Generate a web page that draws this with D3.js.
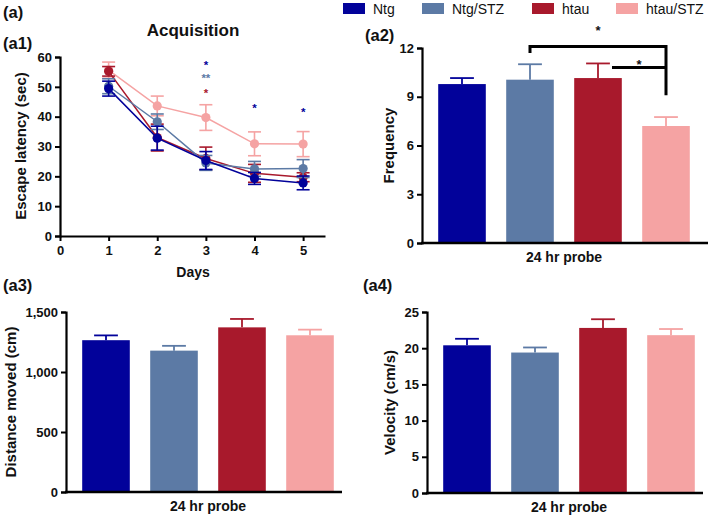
<!DOCTYPE html>
<html><head><meta charset="utf-8">
<script src="https://cdn.jsdelivr.net/npm/d3@7"></script>
<style>body{margin:0;background:#fff}svg{display:block;font-family:"Liberation Sans",Arial,sans-serif;font-weight:bold}</style>
</head><body>
<script>
// ---- data ----
const groups = ["Ntg", "Ntg/STZ", "htau", "htau/STZ"];
const colors = ["#02029a", "#5c7aa5", "#a8192c", "#f5a3a3"];
const days = [1, 2, 3, 4, 5];
const latencyNtg = [49.4, 32.8, 25.3, 19.3, 17.8];
const latencyNtgErr = [2.5, 4.0, 3.0, 2.0, 2.3];
const latencyNtgSTZ = [50.2, 38.3, 24.5, 22.5, 22.6];
const latencyNtgSTZErr = [2.5, 2.6, 2.5, 2.5, 3.0];
const latencyHtau = [55.2, 33.0, 26.0, 21.0, 19.7];
const latencyHtauErr = [1.6, 4.5, 3.8, 3.0, 1.5];
const latencyHtauSTZ = [55.6, 43.6, 39.7, 30.9, 30.8];
const latencyHtauSTZErr = [2.7, 3.3, 4.3, 4.0, 4.2];
const frequency = [9.78, 10.05, 10.15, 7.2];
const frequencyErr = [0.37, 0.95, 0.9, 0.55];
const distance = [1265, 1178, 1372, 1306];
const distanceErr = [40, 40, 70, 47];
const velocity = [20.4, 19.4, 22.8, 21.8];
const velocityErr = [0.9, 0.7, 1.2, 0.85];
const latencyTicks = [0, 10, 20, 30, 40, 50, 60];
const dayTicks = [0, 1, 2, 3, 4, 5];
const frequencyTicks = [0, 3, 6, 9, 12];
const distanceTicks = [0, 500, 1000, 1500];
const velocityTicks = [0, 5, 10, 15, 20, 25];
// significance stars in a1: [day, value, group index, text]
const latencyStars = [[3, 57.2, 0, "*"], [3, 52.8, 1, "**"], [3, 48.1, 2, "*"], [4, 43, 0, "*"], [5, 41.6, 0, "*"]];

const W = 709, H = 516;
const svg = d3.select("body").append("svg").attr("width", W).attr("height", H);
const fmt = d3.format(",");

function text(x, y, s, size, anchor, rot) {
  const t = svg.append("text").attr("x", x).attr("y", y).attr("font-size", size)
    .attr("text-anchor", anchor || "start").attr("dominant-baseline", "central").attr("fill", "#111").text(s);
  if (rot) t.attr("transform", `rotate(${rot},${x},${y})`);
  return t;
}

function styleAxis(g) {
  g.select(".domain").attr("stroke", "#000").attr("stroke-width", 2.2);
  g.selectAll(".tick line").attr("stroke", "#000").attr("stroke-width", 2);
  g.selectAll(".tick text").attr("font-size", 13).attr("font-weight", "bold").attr("fill", "#111")
    .attr("font-family", '"Liberation Sans",Arial,sans-serif');
}

// ---- legend ----
const legX = [343, 422, 532, 616];
groups.forEach((g, i) => {
  svg.append("rect").attr("x", legX[i]).attr("y", 3).attr("width", 22).attr("height", 11).attr("fill", colors[i]);
  text(legX[i] + 30, 9, g, 14).attr("font-weight", "normal");
});

text(3, 12, "(a)", 16.5);

// ---- a1 ----
{
  const x = d3.scaleLinear().domain([0, 5.45]).range([60, 325]);
  const y = d3.scaleLinear().domain([0, 60]).range([236, 57]);
  text(3, 43, "(a1)", 16.5);
  text(193, 30, "Acquisition", 17, "middle");
  svg.append("g").attr("transform", "translate(60,0)")
    .call(d3.axisLeft(y).tickValues(latencyTicks).tickSize(5).tickPadding(3)).call(styleAxis);
  svg.append("g").attr("transform", "translate(0,236)")
    .call(d3.axisBottom(x).tickValues(dayTicks).tickFormat(d3.format("d")).tickSize(5).tickPadding(5).tickSizeOuter(0)).call(styleAxis);
  text(20, 146, "Escape latency (sec)", 15, "middle", -90);
  text(193, 272, "Days", 14, "middle");

  const series = [
    [latencyHtauSTZ, latencyHtauSTZErr, 3],
    [latencyHtau, latencyHtauErr, 2],
    [latencyNtgSTZ, latencyNtgSTZErr, 1],
    [latencyNtg, latencyNtgErr, 0]
  ];
  const line = d3.line().x((d, i) => x(days[i])).y(d => y(d));
  series.forEach(([vals, errs, gi]) => {
    const c = colors[gi];
    const g = svg.append("g");
    g.append("path").attr("d", line(vals)).attr("fill", "none").attr("stroke", c).attr("stroke-width", 1.5);
    vals.forEach((v, i) => {
      const cx = x(days[i]);
      g.append("line").attr("x1", cx).attr("x2", cx).attr("y1", y(v - errs[i])).attr("y2", y(v + errs[i]))
        .attr("stroke", c).attr("stroke-width", 1.6);
      [v - errs[i], v + errs[i]].forEach(e => g.append("line").attr("x1", cx - 6.5).attr("x2", cx + 6.5)
        .attr("y1", y(e)).attr("y2", y(e)).attr("stroke", c).attr("stroke-width", 1.6));
      g.append("circle").attr("cx", cx).attr("cy", y(v)).attr("r", 4.6).attr("fill", c);
    });
  });
  latencyStars.forEach(([d, v, gi, s]) => {
    svg.append("text").attr("x", x(d)).attr("y", y(v) + 4).attr("text-anchor", "middle")
      .attr("font-size", 11.5).attr("fill", colors[gi]).text(s);
  });
}

function barPanel(vals, errs, ticks, yDomain, yRange, axisX, axisEnd, bandRange, label, labelX, tickFmt) {
  const x = d3.scaleBand().domain(groups).range(bandRange).paddingInner(0.3).paddingOuter(0.15);
  const y = d3.scaleLinear().domain(yDomain).range(yRange);
  const g = svg.append("g");
  groups.forEach((gr, i) => {
    const bx = x(gr), bw = x.bandwidth(), cx = bx + bw / 2;
    g.append("line").attr("x1", cx).attr("x2", cx).attr("y1", y(vals[i])).attr("y2", y(vals[i] + errs[i]))
      .attr("stroke", colors[i]).attr("stroke-width", 1.8);
    g.append("line").attr("x1", cx - bw / 4).attr("x2", cx + bw / 4).attr("y1", y(vals[i] + errs[i])).attr("y2", y(vals[i] + errs[i]))
      .attr("stroke", colors[i]).attr("stroke-width", 1.8);
    g.append("rect").attr("x", bx).attr("y", y(vals[i])).attr("width", bw).attr("height", y(0) - y(vals[i]))
      .attr("fill", colors[i]);
  });
  svg.append("g").attr("transform", `translate(${axisX},0)`)
    .call(d3.axisLeft(y).tickValues(ticks).tickSize(5).tickPadding(3).tickFormat(tickFmt || (d => d))).call(styleAxis);
  svg.append("line").attr("x1", axisX - 1).attr("x2", axisEnd).attr("y1", y(0)).attr("y2", y(0))
    .attr("stroke", "#000").attr("stroke-width", 2.4);
  const mid = (yRange[0] + yRange[1]) / 2;
  text(labelX, mid, label, 15, "middle", -90);
  text((bandRange[0] + bandRange[1]) / 2, y(0) + 14, "24 hr probe", 14, "middle");
  return {x, y};
}

// ---- a2 ----
{
  text(365, 35, "(a2)", 16.5);
  const {x, y} = barPanel(frequency, frequencyErr, frequencyTicks, [0, 12], [243, 48], 422, 708, [428, 700], "Frequency", 388);
  const cx = i => x(groups[i]) + x.bandwidth() / 2;
  const br = svg.append("g").attr("fill", "none").attr("stroke", "#000").attr("stroke-width", 3);
  br.append("path").attr("d", `M${cx(1)},${y(11.7)}V${y(12.1)}H${cx(3)}V${y(9.1)}`);
  br.append("path").attr("d", `M${cx(2) + 14},${y(10.8)}H${cx(3)}`);
  text((cx(1) + cx(3)) / 2, 30, "*", 13, "middle");
  text((cx(2) + 14 + cx(3)) / 2, 64, "*", 13, "middle");
}

// ---- a3 ----
{
  text(3, 285, "(a3)", 16.5);
  barPanel(distance, distanceErr, distanceTicks, [0, 1500], [492, 312], 66, 342, [72, 344], "Distance moved (cm)", 10, fmt);
}

// ---- a4 ----
{
  text(363, 285, "(a4)", 16.5);
  barPanel(velocity, velocityErr, velocityTicks, [0, 25], [493, 312], 427, 703, [433, 705], "Velocity (cm/s)", 389);
}
</script>
</body></html>
